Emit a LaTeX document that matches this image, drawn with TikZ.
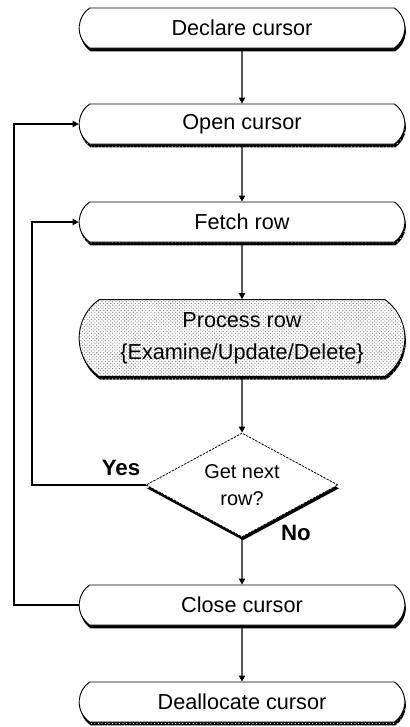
\documentclass[tikz,border=0pt]{standalone}
\usepackage{fontspec}
\setmainfont{Liberation Sans}
\usetikzlibrary{positioning,arrows.meta,shapes.misc,shapes.geometric,shadows,patterns}
\tikzset{
  step box/.style={draw,line width=0.8pt,fill=white,shape=rounded rectangle,
    rounded rectangle arc length=110,minimum width=9.84cm,minimum height=1.2cm,
    inner sep=1pt,font=\fontsize{18.5}{27}\selectfont,align=center},
  shsolid/.style={general shadow={shadow xshift=0.03cm,shadow yshift=-0.1cm,fill=black}},
  shdots/.style={general shadow={shadow xshift=0.03cm,shadow yshift=-0.1cm,fill=black,
    postaction={pattern=dots,pattern color=white}}},
  dotfill/.style={postaction={pattern=crosshatch dots,pattern color=black!55}},
  decide/.style={draw,dashed,dash pattern=on 2pt off 1pt,line width=0.7pt,fill=white,
    shape=diamond,aspect=1.85,minimum width=5.76cm,minimum height=3.12cm,inner sep=0pt,
    font=\fontsize{17}{23}\selectfont,align=center},
  conn/.style={-{Triangle[length=1.8mm,width=1.9mm]},line width=1pt},
  lbl/.style={font=\bfseries\fontsize{19}{21}\selectfont,inner sep=0pt},
}
\begin{document}
\begin{tikzpicture}[x=0.03cm,y=-0.03cm]
  \useasboundingbox (0,0) rectangle (409,727);
  % cursor steps
  \node[step box,shsolid] (declare) at (242,28) {Declare cursor};
  \node[step box,shdots] (open) at (242,124) {Open cursor};
  \node[step box,shdots] (fetch) at (242,222) {Fetch row};
  \node[step box,shdots,dotfill,minimum height=2.3cm] (process) at (242,338)
    {Process row\\\{Examine/Update/Delete\}};
  \node[decide,shsolid] (more) at (242,485) {Get next\\row?};
  \node[step box,shsolid] (close) at (242,605) {Close cursor};
  \node[step box,shdots] (dealloc) at (242,702) {Deallocate cursor};
  % loop rails
  \coordinate (outer) at (14,0);
  \coordinate (inner) at (32,0);
  % main flow
  \draw[conn] (declare) -- (open);
  \draw[conn] (open) -- (fetch);
  \draw[conn] (fetch) -- (process);
  \draw[conn] (process) -- (more);
  \draw[conn] (more) -- (close);
  \draw[conn] (close) -- (dealloc);
  % loops back
  \draw[conn] (more.west) -- (more.west -| inner) |- (fetch.west);
  \draw[conn] (close.west) -- (close.west -| outer) |- (open.west);
  \node[lbl] (yes) at (121,468) {Yes};
  \node[lbl] (no) at (296,533) {No};
\end{tikzpicture}
\end{document}
